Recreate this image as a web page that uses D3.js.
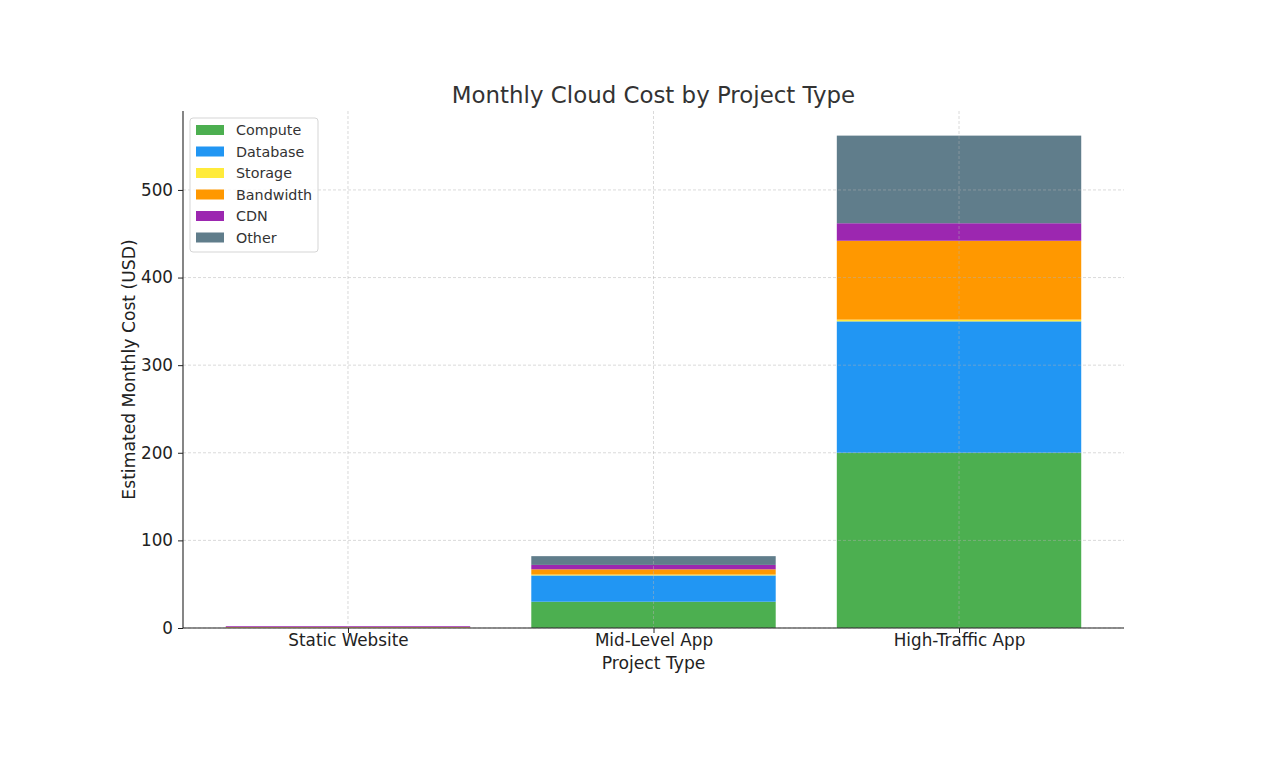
<!DOCTYPE html>
<html>
<head>
<meta charset="utf-8">
<script src="https://cdn.jsdelivr.net/npm/d3@7"></script>
<style>
  body { margin: 0; background: #fff; }
  svg { font-family: "DejaVu Sans", sans-serif; }
</style>
</head>
<body>
<svg id="chart" width="1280" height="769"></svg>
<script>
// data
var categories = ["Static Website", "Mid-Level App", "High-Traffic App"];
var seriesNames = ["Compute", "Database", "Storage", "Bandwidth", "CDN", "Other"];
var seriesColors = ["#4CAF50", "#2196F3", "#FFEB3B", "#FF9800", "#9C27B0", "#607D8B"];
var compute   = [0, 30, 200];
var database  = [0, 30, 150];
var storage   = [0.5, 1, 2];
var bandwidth = [0.5, 6, 90];
var cdn       = [1, 5, 20];
var other     = [0, 10, 100];
var yTicks = [0, 100, 200, 300, 400, 500];

var svg = d3.select("#chart");
var mLeft = 183, mRight = 1124, mTop = 111, mBottom = 628;

var rows = categories.map(function(c, i) {
    return { cat: c, i: i, Compute: compute[i], Database: database[i], Storage: storage[i],
             Bandwidth: bandwidth[i], CDN: cdn[i], Other: other[i] };
});
var stacked = d3.stack().keys(seriesNames)(rows);
var maxTotal = d3.max(rows, function(r) { return d3.sum(seriesNames, function(k) { return r[k]; }); });

var x = d3.scaleLinear().domain([-0.54, 2.54]).range([mLeft, mRight]);
var y = d3.scaleLinear().domain([0, maxTotal * 1.05]).range([mBottom, mTop]);
var barW = x(0.8) - x(0);

// bars
svg.append("g").selectAll("g")
    .data(stacked)
    .join("g")
    .attr("fill", function(d, i) { return seriesColors[i]; })
    .selectAll("rect")
    .data(function(d) { return d; })
    .join("rect")
    .attr("x", function(d) { return x(d.data.i) - barW / 2; })
    .attr("width", barW)
    .attr("y", function(d) { return y(d[1]); })
    .attr("height", function(d) { return Math.max(0, y(d[0]) - y(d[1])); });

// grid (drawn over bars, like the reference)
var grid = svg.append("g").attr("stroke", "#b0b0b0").attr("stroke-opacity", 0.6)
    .attr("stroke-dasharray", "3,2").attr("stroke-width", 0.8);
grid.selectAll("line.h").data(yTicks).join("line").attr("class", "h")
    .attr("x1", mLeft).attr("x2", mRight)
    .attr("y1", function(d) { return y(d); }).attr("y2", function(d) { return y(d); });
grid.selectAll("line.v").data(categories).join("line").attr("class", "v")
    .attr("y1", mTop).attr("y2", mBottom)
    .attr("x1", function(d, i) { return x(i); }).attr("x2", function(d, i) { return x(i); });

// axes
var yAxis = d3.axisLeft(y).tickValues(yTicks).tickSize(5).tickPadding(5);
var gy = svg.append("g").attr("transform", "translate(" + mLeft + ",0)").call(yAxis);
var xAxis = d3.axisBottom(x).tickValues([0, 1, 2]).tickFormat(function(d) { return categories[d]; })
    .tickSize(5).tickPadding(1.5);
var gx = svg.append("g").attr("transform", "translate(0," + mBottom + ")").call(xAxis);
[gx, gy].forEach(function(g) {
    g.select(".domain").attr("stroke", "#222").attr("stroke-width", 1.1);
    g.selectAll(".tick line").attr("stroke", "#222");
    g.selectAll(".tick text").attr("font-size", 16.8).attr("fill", "#222")
        .attr("font-family", "DejaVu Sans, sans-serif");
});
gx.select(".domain").attr("d", "M" + mLeft + ",0H" + mRight);
gy.select(".domain").attr("d", "M0," + mTop + "V" + mBottom);

// title and labels
svg.append("text").attr("x", (mLeft + mRight) / 2).attr("y", 103).attr("text-anchor", "middle")
    .attr("font-size", 22.9).attr("fill", "#333").text("Monthly Cloud Cost by Project Type");
svg.append("text").attr("x", (mLeft + mRight) / 2).attr("y", 669).attr("text-anchor", "middle")
    .attr("font-size", 17.2).attr("fill", "#222").text("Project Type");
svg.append("text").attr("transform", "translate(135," + ((mTop + mBottom) / 2) + ") rotate(-90)")
    .attr("text-anchor", "middle").attr("font-size", 17.2).attr("fill", "#222")
    .text("Estimated Monthly Cost (USD)");

// legend
var lg = svg.append("g").attr("transform", "translate(190,118)");
lg.append("rect").attr("width", 128).attr("height", 134).attr("rx", 3)
    .attr("fill", "#fff").attr("fill-opacity", 0.8).attr("stroke", "#d5d5d5");
var items = lg.selectAll("g.item").data(seriesNames).join("g").attr("class", "item")
    .attr("transform", function(d, i) { return "translate(6," + (7 + i * 21.5) + ")"; });
items.append("rect").attr("width", 28).attr("height", 10)
    .attr("fill", function(d, i) { return seriesColors[i]; });
items.append("text").attr("x", 40).attr("y", 10).attr("font-size", 14.3).attr("fill", "#333")
    .text(function(d) { return d; });
</script>
</body>
</html>
